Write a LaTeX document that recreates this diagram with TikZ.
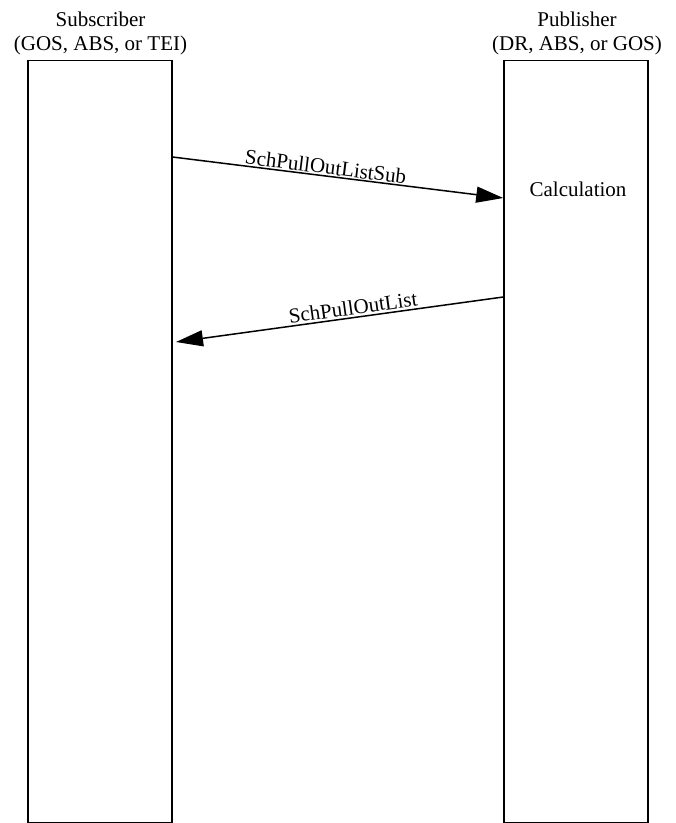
\documentclass[tikz,border=0pt]{standalone}
\usepackage{fontspec}
\setmainfont{Liberation Serif}
\usetikzlibrary{arrows.meta}
\begin{document}
\begin{tikzpicture}[x=1pt,y=-1pt,
  lifeline/.style={draw=black,line width=1.5pt,minimum width=144pt,minimum height=762pt,anchor=north,inner sep=0pt},
  caption/.style={align=center,font=\fontsize{21}{24}\selectfont,inner sep=0pt},
  msg/.style={line width=1.5pt,-{Triangle[length=27pt,width=16pt]}},
  msglabel/.style={sloped,above,inner sep=2pt,font=\fontsize{21}{24}\selectfont}]
  \useasboundingbox (0,0) rectangle (676,823);
  % lifelines
  \node[lifeline] (sub) at (99.8,59.5) {};
  \node[lifeline] (pub) at (576,59.5) {};
  % headers (base anchor sits on the last line)
  \node[caption,anchor=base] (subhead) at (100.5,50) {Subscriber\\(GOS, ABS, or TEI)};
  \node[caption,anchor=base] (pubhead) at (577,50) {Publisher\\(DR, ABS, or GOS)};
  % local processing
  \node[caption,anchor=base] (calc) at (578,196) {Calculation};
  % messages
  \coordinate (m1s) at (sub.north east |- 0,157);
  \coordinate (m1e) at (pub.north west |- 0,198);
  \coordinate (m2s) at (pub.north west |- 0,297);
  \coordinate (m2e) at (176,342);
  \draw[msg] (m1s) -- node[msglabel,pos=0.46,inner sep=1pt] (l1) {SchPullOutListSub} (m1e);
  \draw[msg] (m2s) -- node[msglabel,pos=0.455] (l2) {SchPullOutList} (m2e);
\end{tikzpicture}
\end{document}
